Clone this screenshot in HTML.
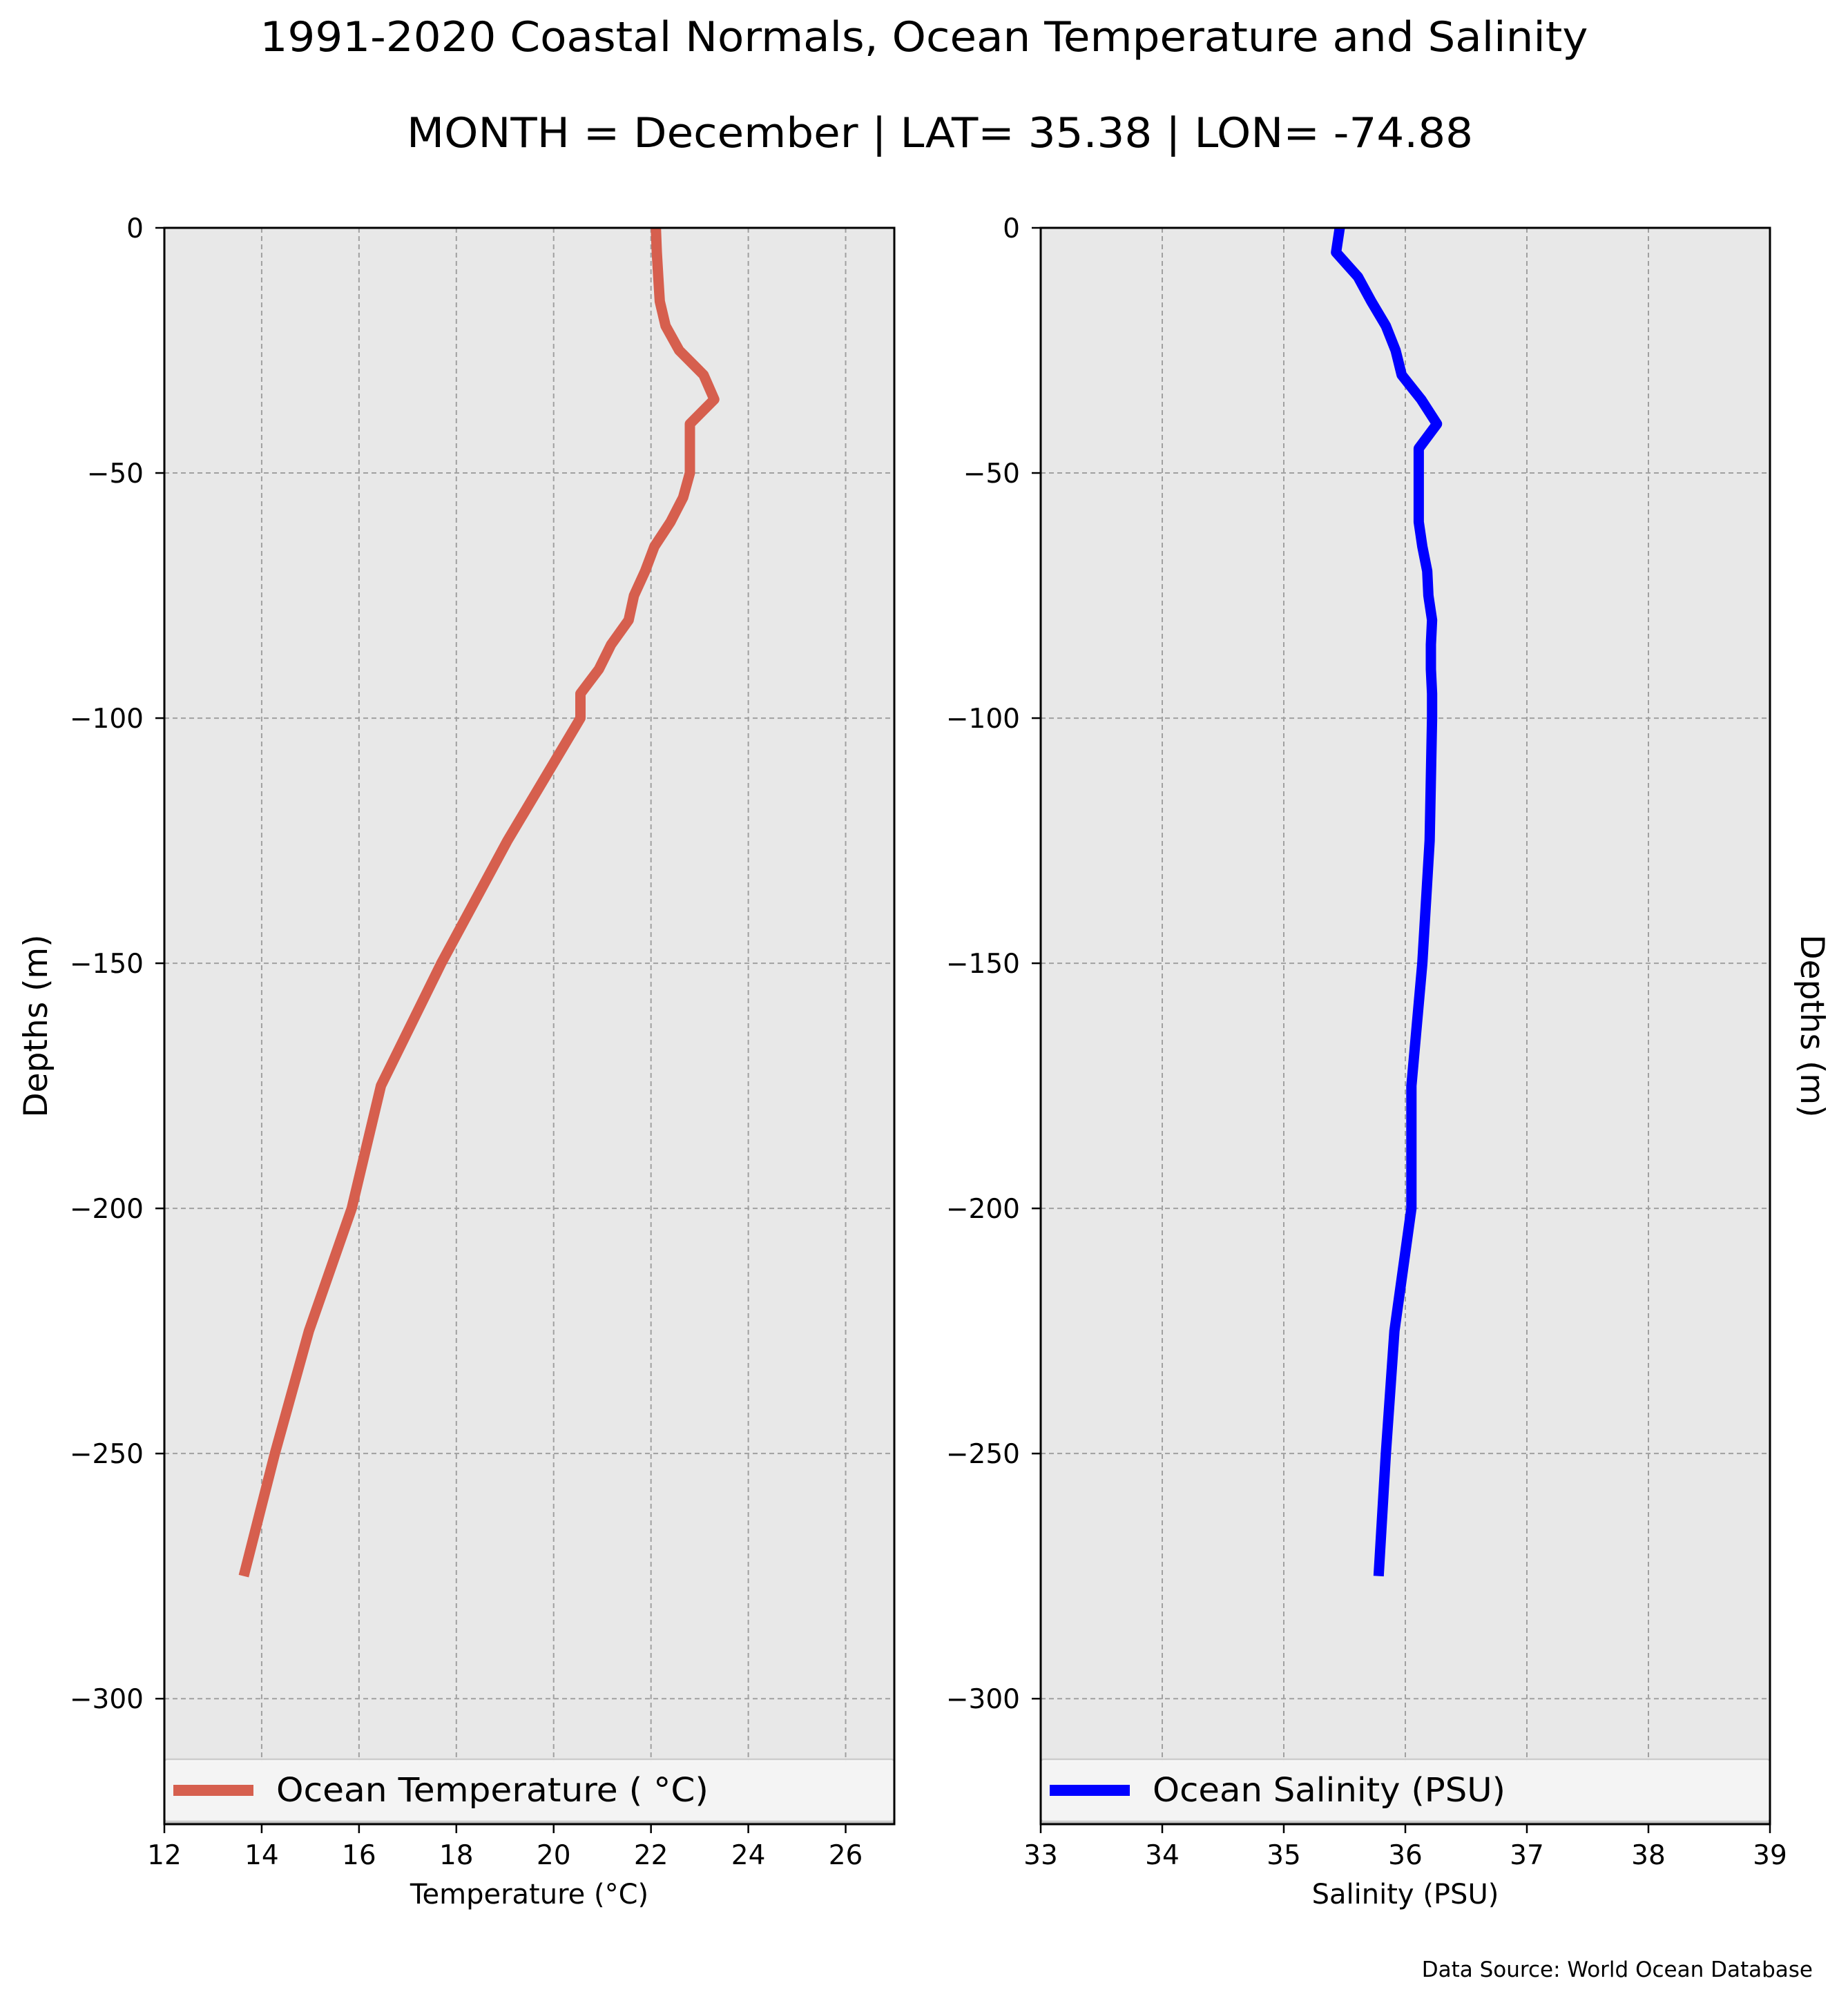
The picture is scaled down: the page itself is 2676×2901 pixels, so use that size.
<!DOCTYPE html>
<html><head><meta charset="utf-8"><style>
html,body{margin:0;padding:0;background:#fff}
svg{display:block;font-family:"DejaVu Sans","Liberation Sans",sans-serif}
</style></head><body>
<svg id="chart" width="2676" height="2901" viewBox="0 0 2676 2901" xmlns="http://www.w3.org/2000/svg">
<text x="1338" y="74" font-size="60" text-anchor="middle" textLength="1923" lengthAdjust="spacingAndGlyphs">1991-2020 Coastal Normals, Ocean Temperature and Salinity</text>
<text x="1361" y="213" font-size="60" text-anchor="middle" textLength="1544" lengthAdjust="spacingAndGlyphs">MONTH = December | LAT= 35.38 | LON= -74.88</text>
<text transform="translate(68,1486) rotate(-90)" font-size="47" text-anchor="middle">Depths (m)</text>
<text transform="translate(2608,1486) rotate(90)" font-size="47" text-anchor="middle">Depths (m)</text>
<text x="2625" y="2863" font-size="31" text-anchor="end">Data Source: World Ocean Database</text>
<g id="left"></g>
<g id="right"></g>
</svg>
<script>
const depths = [0,5,10,15,20,25,30,35,40,45,50,55,60,65,70,75,80,85,90,95,100,125,150,175,200,225,250,275];
const temperature = [22.1,22.12,22.15,22.18,22.3,22.58,23.08,23.3,22.8,22.8,22.8,22.66,22.4,22.07,21.88,21.65,21.54,21.18,20.93,20.55,20.55,19.05,17.69,16.45,15.85,14.97,14.27,13.63];
const salinity = [35.46,35.43,35.61,35.72,35.84,35.92,35.97,36.13,36.26,36.11,36.11,36.11,36.11,36.14,36.18,36.19,36.22,36.21,36.21,36.22,36.22,36.2,36.14,36.05,36.05,35.91,35.84,35.78];
const yTicks = [0,-50,-100,-150,-200,-250,-300];
const tempTicks = [12,14,16,18,20,22,24,26];
const salTicks = [33,34,35,36,37,38,39];

const NS = "http://www.w3.org/2000/svg";
const TOP = 330, BOT = 2642, YMIN = -325.6;
function yScale(d){ return TOP + (0 - d) / (0 - YMIN) * (BOT - TOP); }
function mk(tag, attrs, parent){
  const e = document.createElementNS(NS, tag);
  for (const k in attrs) e.setAttribute(k, attrs[k]);
  parent.appendChild(e); return e;
}
function panel(g, x0, x1, xmin, xmax, xticks, values, color, xlabel, legendText, legendLen){
  const xs = v => x0 + (v - xmin) / (xmax - xmin) * (x1 - x0);
  const bg = mk('rect', {x:x0, y:TOP, width:x1-x0, height:BOT-TOP, fill:'#e8e8e8'}, g);
  
  
  xticks.forEach(t => {
    const X = xs(t);
    if (t !== xmin && t !== xmax) {
      const gl = mk('line', {x1:X, x2:X, y1:TOP, y2:BOT, stroke:'#a0a0a0', 'stroke-width':2, 'stroke-dasharray':'7,5'}, g);
      
      
    }
    const tk = mk('line', {x1:X, x2:X, y1:BOT, y2:BOT+13, stroke:'#000', 'stroke-width':2.5}, g);
    
    
    const lb = mk('text', {x:X, y:2700, 'font-size':39, 'text-anchor':'middle'}, g);
    lb.textContent = t;
    
    
  });
  yTicks.forEach(t => {
    const Y = yScale(t);
    if (t !== 0) {
      const gl = mk('line', {x1:x0, x2:x1, y1:Y, y2:Y, stroke:'#a0a0a0', 'stroke-width':2, 'stroke-dasharray':'7,5'}, g);
      
      
    }
    const tk = mk('line', {x1:x0-13, x2:x0, y1:Y, y2:Y, stroke:'#000', 'stroke-width':2.5}, g);
    
    
    const lb = mk('text', {x:x0-30, y:Y+14, 'font-size':39, 'text-anchor':'end'}, g);
    lb.textContent = t < 0 ? '\u2212' + Math.abs(t) : String(t);
    
    
  });
  const pts = depths.map((d,i) => xs(values[i]).toFixed(1) + ',' + yScale(-d).toFixed(1)).join(' ');
  const pl = mk('polyline', {points:pts, fill:'none', stroke:color, 'stroke-width':15, 'stroke-linejoin':'round', 'stroke-linecap':'butt'}, g);
  
  
  // legend
  const lg = mk('g', {}, g);
  
  
  mk('rect', {x:x0+2, y:2551, width:x1-x0-2, height:91, rx:4, fill:'#b8b8b8'}, lg);
  const lbox = mk('rect', {x:x0, y:2548, width:x1-x0, height:90, rx:4, fill:'#f9f9f9', 'fill-opacity':0.92, stroke:'#cccccc', 'stroke-width':2.5}, lg);
  
  
  const ll = mk('line', {x1:x0+13, x2:x0+129, y1:2593, y2:2593, stroke:color, 'stroke-width':16}, lg);
  
  
  const lt = mk('text', {x:x0+162, y:2609, 'font-size':48, textLength:legendLen, lengthAdjust:'spacingAndGlyphs'}, lg);
  lt.textContent = legendText;
  
  
  // spines
  const sp = mk('rect', {x:x0, y:TOP, width:x1-x0, height:BOT-TOP, fill:'none', stroke:'#000', 'stroke-width':3}, g);
  
  
  const xl = mk('text', {x:(x0+x1)/2, y:2757, 'font-size':40, 'text-anchor':'middle'}, g);
  xl.textContent = xlabel;
  
  
}
const L = document.getElementById('left');


const R = document.getElementById('right');


panel(L, 238, 1295, 12, 27, tempTicks, temperature, '#d65f4e', 'Temperature (\u00b0C)', 'Ocean Temperature ( \u00b0C)', 626);
panel(R, 1507, 2563, 33, 39, salTicks, salinity, '#0000ff', 'Salinity (PSU)', 'Ocean Salinity (PSU)', 511);
</script>
</body></html>
